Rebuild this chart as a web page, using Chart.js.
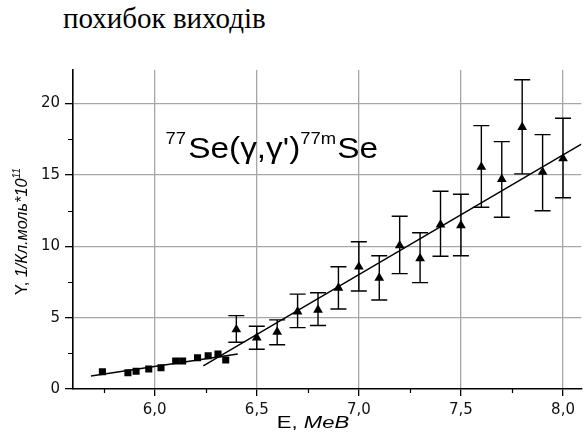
<!DOCTYPE html>
<html>
<head>
<meta charset="utf-8">
<script src="https://cdn.jsdelivr.net/npm/chart.js@4"></script>
<style>
  html, body { margin: 0; padding: 0; background: #fff; }
  #wrap { position: relative; width: 587px; height: 445px; overflow: hidden; }
  #title { position: absolute; left: 63px; top: 4px; font-family: "Liberation Serif", "Times New Roman", serif; font-size: 29px; line-height: 29px; color: #000; white-space: nowrap; }
  canvas { position: absolute; left: 0; top: 0; }
</style>
</head>
<body>
<div id="wrap">
  <div id="title">похибок виходів</div>
  <canvas id="c" width="587" height="445"></canvas>
</div>
<script>
// ---- data ----
const sqE = [5.744, 5.869, 5.909, 5.971, 6.031, 6.103, 6.137, 6.210, 6.262, 6.310, 6.348];
const sqY = [1.21, 1.14, 1.24, 1.40, 1.49, 1.96, 1.96, 2.19, 2.33, 2.45, 2.03];

const triE = [6.40, 6.50, 6.60, 6.70, 6.80, 6.90, 7.00, 7.10, 7.20, 7.30, 7.40, 7.50, 7.60, 7.70, 7.80, 7.90, 8.00];
const triY = [4.17, 3.60, 4.00, 5.42, 5.54, 7.08, 8.56, 7.78, 10.05, 9.15, 11.52, 11.46, 15.55, 14.70, 18.35, 15.20, 16.15];
const triErrHi = [5.14, 4.40, 4.84, 6.65, 6.74, 8.57, 10.32, 9.34, 12.10, 10.95, 13.85, 13.64, 18.45, 17.33, 21.67, 17.82, 18.97];
const triErrLo = [3.28, 2.79, 3.10, 4.30, 4.45, 5.60, 6.87, 6.24, 8.08, 7.45, 9.30, 9.34, 12.73, 12.03, 15.07, 12.49, 13.40];

const fitLowE = [5.688, 6.407];
const fitLowY = [0.91, 2.45];
const fitHighE = [6.238, 8.09];
const fitHighY = [1.62, 17.15];

const xTickValues = [6.0, 6.5, 7.0, 7.5, 8.0];
const xTickLabels = ['6,0', '6,5', '7,0', '7,5', '8,0'];
const xMinorTicks = [5.75, 6.25, 6.75, 7.25, 7.75];
const yTickValues = [0, 5, 10, 15, 20];
const yTickLabels = ['0', '5', '10', '15', '20'];
const yMinorTicks = [2.5, 7.5, 12.5, 17.5];

const xMin = 5.6, xMax = 8.09;
const yMin = 0, yMax = 22.35;

const annotationAnchor = { E: 6.053, Y: 16.19 };
// -------------------------------------

const toXY = (xs, ys) => xs.map((x, i) => ({ x: x, y: ys[i] }));

const errorBars = {
  id: 'errorBars',
  beforeDatasetsDraw(chart) {
    const ctx = chart.ctx, xs = chart.scales.x, ys = chart.scales.y;
    ctx.save();
    ctx.strokeStyle = '#000';
    ctx.lineWidth = 1.4;
    const cap = 8;
    triE.forEach((e, i) => {
      const px = xs.getPixelForValue(e);
      const top = ys.getPixelForValue(triErrHi[i]);
      const bot = ys.getPixelForValue(triErrLo[i]);
      ctx.beginPath();
      ctx.moveTo(px, top); ctx.lineTo(px, bot);
      ctx.moveTo(px - cap, top); ctx.lineTo(px + cap, top);
      ctx.moveTo(px - cap, bot); ctx.lineTo(px + cap, bot);
      ctx.stroke();
    });
    ctx.restore();
  }
};

const minorTicks = {
  id: 'minorTicks',
  afterDraw(chart) {
    const ctx = chart.ctx, xs = chart.scales.x, ys = chart.scales.y, a = chart.chartArea;
    ctx.save();
    ctx.strokeStyle = '#000';
    ctx.lineWidth = 1.2;
    ctx.beginPath();
    xMinorTicks.forEach(v => {
      const px = Math.round(xs.getPixelForValue(v)) + 0.5;
      ctx.moveTo(px, a.bottom); ctx.lineTo(px, a.bottom + 4);
    });
    yMinorTicks.forEach(v => {
      const py = Math.round(ys.getPixelForValue(v)) + 0.5;
      ctx.moveTo(a.left, py); ctx.lineTo(a.left - 5, py);
    });
    ctx.stroke();
    ctx.restore();
  }
};

function drawPieces(ctx, pieces, x, y) {
  let cx = x;
  pieces.forEach(p => {
    ctx.font = p.font;
    ctx.fillText(p.t, cx, y - (p.dy || 0));
    cx += ctx.measureText(p.t).width + (p.gap || 0);
  });
  return cx - x;
}
function measurePieces(ctx, pieces) {
  let w = 0;
  pieces.forEach(p => { ctx.font = p.font; w += ctx.measureText(p.t).width + (p.gap || 0); });
  return w;
}

const texts = {
  id: 'texts',
  afterDraw(chart) {
    const ctx = chart.ctx, xs = chart.scales.x, ys = chart.scales.y, a = chart.chartArea;
    ctx.save();
    ctx.fillStyle = '#000';
    ctx.textBaseline = 'alphabetic';
    ctx.textAlign = 'left';

    // annotation
    const ax = xs.getPixelForValue(annotationAnchor.E);
    const ay = ys.getPixelForValue(annotationAnchor.Y);
    const F = '"Liberation Sans", Arial, sans-serif';
    const ann = [
      { t: '77', font: '16px ' + F, dy: 14, gap: 2 },
      { t: 'Se(γ,γ\')', font: '29px ' + F },
      { t: '77m', font: '16px ' + F, dy: 14, gap: 1 },
      { t: 'Se', font: '29px ' + F }
    ];
    ctx.save();
    ctx.translate(ax, ay);
    ctx.scale(1.15, 1);
    drawPieces(ctx, ann, 0, 0);
    ctx.restore();

    // x axis title
    const xt = [
      { t: 'E, ', font: '16px ' + F },
      { t: 'МеВ', font: 'italic 16px ' + F }
    ];
    ctx.save();
    const xw = measurePieces(ctx, xt);
    const sx = 1.38;
    ctx.translate(313 - xw * sx / 2, a.bottom + 39);
    ctx.scale(sx, 1);
    drawPieces(ctx, xt, 0, 0);
    ctx.restore();

    // y axis title
    const yt = [
      { t: 'Y, ', font: '16px ' + F },
      { t: '1/Кл.моль*10', font: 'italic 16px ' + F },
      { t: '11', font: 'italic 10px ' + F, dy: 7 }
    ];
    ctx.save();
    const yw = measurePieces(ctx, yt);
    const target = 127;
    const cy = (a.top + a.bottom) / 2 + 2;
    ctx.translate(27, cy);
    ctx.rotate(-Math.PI / 2);
    ctx.scale(target / yw, 1);
    drawPieces(ctx, yt, -yw / 2, 0);
    ctx.restore();

    ctx.restore();
  }
};

const gridColor = '#a6a6a6';

new Chart(document.getElementById('c'), {
  type: 'scatter',
  data: {
    datasets: [
      {
        label: 'fitLow', type: 'line', data: toXY(fitLowE, fitLowY),
        borderColor: '#000', borderWidth: 1.4, pointRadius: 0, fill: false, tension: 0
      },
      {
        label: 'fitHigh', type: 'line', data: toXY(fitHighE, fitHighY),
        borderColor: '#000', borderWidth: 1.4, pointRadius: 0, fill: false, tension: 0
      },
      {
        label: 'squares', data: toXY(sqE, sqY),
        pointStyle: 'rect', pointRadius: 5, backgroundColor: '#000', borderColor: '#000', borderWidth: 0
      },
      {
        label: 'triangles', data: toXY(triE, triY),
        pointStyle: 'triangle', pointRadius: 5.6, backgroundColor: '#000', borderColor: '#000', borderWidth: 0
      }
    ]
  },
  options: {
    responsive: false,
    animation: false,
    devicePixelRatio: 1,
    layout: { padding: { top: 70, right: 0, left: 0, bottom: 0 } },
    plugins: { legend: { display: false }, tooltip: { enabled: false }, title: { display: false } },
    scales: {
      x: {
        type: 'linear', min: xMin, max: xMax,
        afterFit: s => { s.height = 56; },
        afterBuildTicks: s => { s.ticks = xTickValues.map(v => ({ value: v })); },
        ticks: {
          autoSkip: false, maxRotation: 0, padding: 5,
          color: '#111',
          font: { family: '"DejaVu Sans", sans-serif', size: 15 },
          callback: (v, i) => xTickLabels[i]
        },
        grid: { color: gridColor, lineWidth: 1.3, drawTicks: true, tickLength: 7, tickColor: '#000', tickWidth: 1.3 },
        border: { display: true, color: '#000', width: 1.6 }
      },
      y: {
        type: 'linear', min: yMin, max: yMax,
        afterFit: s => { s.width = 73; },
        afterBuildTicks: s => { s.ticks = yTickValues.map(v => ({ value: v })); },
        ticks: {
          autoSkip: false, padding: 5,
          color: '#111',
          font: { family: '"DejaVu Sans", sans-serif', size: 15 },
          callback: (v, i) => yTickLabels[i]
        },
        grid: {
          color: ctx => (ctx.tick && ctx.tick.value === 0) ? 'rgba(0,0,0,0)' : gridColor,
          lineWidth: 1.3, drawTicks: true, tickLength: 8, tickColor: '#000', tickWidth: 1.3
        },
        border: { display: true, color: '#000', width: 1.6 }
      }
    }
  },
  plugins: [errorBars, minorTicks, texts]
});
</script>
</body>
</html>
